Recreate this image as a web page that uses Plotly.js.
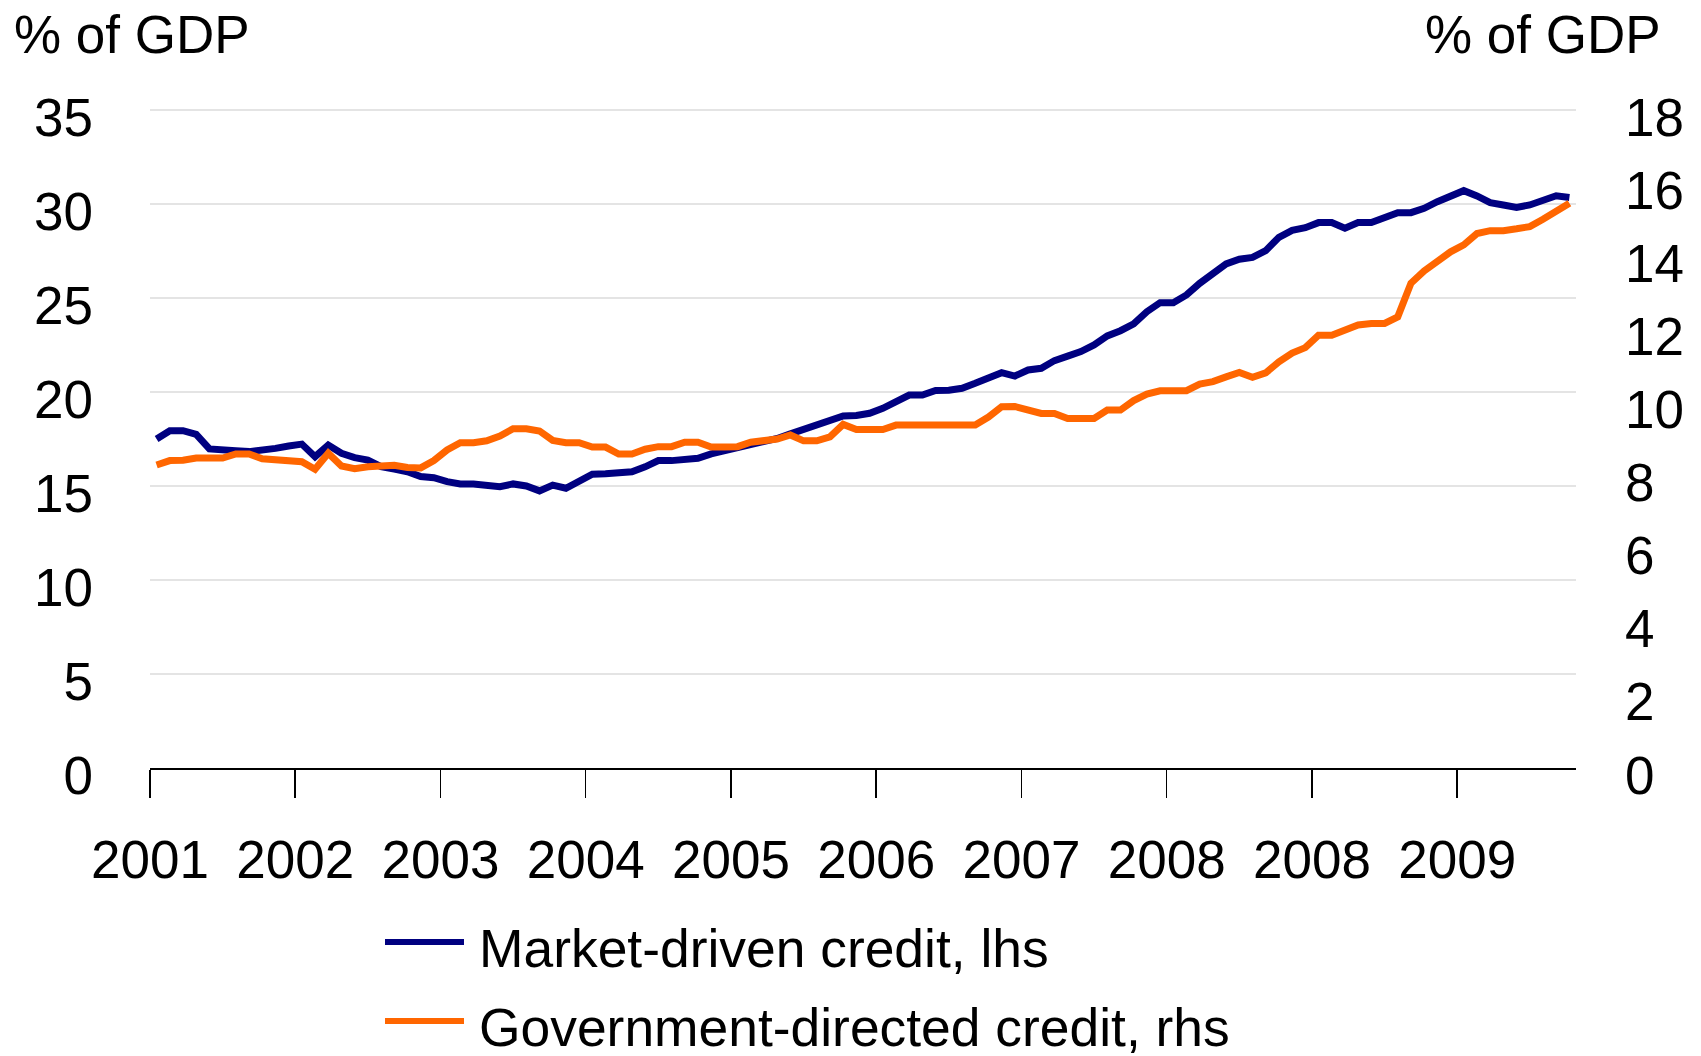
<!DOCTYPE html>
<html>
<head>
<meta charset="utf-8">
<script src="https://cdn.plot.ly/plotly-3.0.1.min.js"></script>
<style>
  html, body { margin: 0; padding: 0; background: #ffffff; }
  #chart { width: 1701px; height: 1056px; }
</style>
</head>
<body>
<div id="chart"></div>
<script>
// ---- Data ----
// Monthly observations, one per category on the horizontal axis
const marketDriven = [
  17.50, 17.94, 17.94, 17.75, 16.97, 16.97, 16.88, 16.83, 16.88, 17.00,
  17.13, 17.23, 16.56, 17.18, 16.74, 16.51, 16.38, 16.03, 15.90, 15.76,
  15.50, 15.44, 15.23, 15.11, 15.11, 15.00, 14.96, 15.11, 15.00, 14.74,
  15.05, 14.88, 15.25, 15.63, 15.65, 15.75, 15.76, 16.02, 16.35, 16.35,
  16.37, 16.47, 16.71, 16.87, 17.11, 17.25, 17.41, 17.53, 17.77, 18.00,
  18.24, 18.44, 18.73, 18.75, 18.87, 19.13, 19.51, 19.84, 19.84, 20.08,
  20.09, 20.20, 20.46, 20.77, 21.03, 20.85, 21.17, 21.26, 21.67, 21.91,
  22.15, 22.50, 22.98, 23.26, 23.62, 24.27, 24.75, 24.75, 25.16, 25.78,
  26.28, 26.81, 27.06, 27.16, 27.52, 28.23, 28.60, 28.74, 29.01, 29.01,
  28.71, 29.01, 29.01, 29.29, 29.54, 29.54, 29.77, 30.12, 30.44, 30.71,
  30.43, 30.07, 29.95, 29.82, 29.95, 30.18, 30.44, 30.35
];
const governmentDirected = [
  8.29, 8.41, 8.42, 8.48, 8.48, 8.48, 8.59, 8.59, 8.46, 8.44,
  8.38, 8.38, 8.17, 8.61, 8.26, 8.19, 8.24, 8.28, 8.28, 8.22,
  8.21, 8.41, 8.70, 8.90, 8.90, 8.95, 9.08, 9.28, 9.28, 9.22,
  8.96, 8.90, 8.90, 8.78, 8.78, 8.59, 8.59, 8.72, 8.79, 8.79,
  8.91, 8.91, 8.78, 8.78, 8.79, 8.91, 8.94, 9.00, 9.11, 8.95,
  8.95, 9.06, 9.40, 9.26, 9.26, 9.26, 9.38, 9.38, 9.38, 9.38,
  9.38, 9.38, 9.38, 9.60, 9.88, 9.89, 9.77, 9.70, 9.70, 9.56,
  9.56, 9.56, 9.79, 9.79, 10.05, 10.23, 10.32, 10.32, 10.32, 10.50,
  10.57, 10.70, 10.82, 10.69, 10.81, 11.11, 11.35, 11.50, 11.84, 11.84,
  11.98, 12.12, 12.16, 12.16, 12.34, 13.26, 13.60, 13.85, 14.12, 14.31,
  14.62, 14.70, 14.70, 14.75, 14.81, 15.01, 15.24, 15.45
];
// Tick labels exactly as printed on the reference (every 11th category)
const tickLabels = ["2001", "2002", "2003", "2004", "2005", "2006", "2007", "2008", "2008", "2009"];
const tickEvery = 11;
const seriesNames = ["Market-driven credit, lhs", "Government-directed credit, rhs"];
const seriesColors = ["#000080", "#FF6600"];
const axisTitle = "% of GDP";

// ---- Build ----
const periods = marketDriven.map((_, i) => i);
const tickPositions = tickLabels.map((_, k) => k * tickEvery - 0.5);
const FONT = 'Arial, "Liberation Sans", sans-serif';
const FS = 53;

const traces = [
  { x: periods, y: marketDriven, name: seriesNames[0], type: 'scatter', mode: 'lines',
    yaxis: 'y', line: { color: seriesColors[0], width: 7 }, showlegend: false },
  { x: periods, y: governmentDirected, name: seriesNames[1], type: 'scatter', mode: 'lines',
    yaxis: 'y2', line: { color: seriesColors[1], width: 7 }, showlegend: false }
];

// plot area geometry in pixels (for paper conversion of the hand-made legend/titles)
const W = 1701, H = 1056, L = 150, R = 125, T = 108, B = 288;
const pw = W - L - R, ph = H - T - B;
const px = x => (x - L) / pw;
const py = y => (H - B - y) / ph;

const legendRows = [942, 1021];
const shapes = seriesNames.map((n, k) => ({
  type: 'line', xref: 'paper', yref: 'paper',
  x0: px(385), x1: px(464), y0: py(legendRows[k]), y1: py(legendRows[k]),
  line: { color: seriesColors[k], width: 6 }
}));
const annotations = seriesNames.map((n, k) => ({
  text: n, xref: 'paper', yref: 'paper', x: px(477), y: py(legendRows[k] + 6),
  xanchor: 'left', yanchor: 'middle', showarrow: false,
  font: { family: FONT, size: 53.4, color: '#000000' }
}));
annotations.push({
  text: axisTitle, xref: 'paper', yref: 'paper', x: px(12), y: py(34),
  xanchor: 'left', yanchor: 'middle', showarrow: false,
  font: { family: FONT, size: FS, color: '#000000' }
});
annotations.push({
  text: axisTitle, xref: 'paper', yref: 'paper', x: px(1663), y: py(34),
  xanchor: 'right', yanchor: 'middle', showarrow: false,
  font: { family: FONT, size: FS, color: '#000000' }
});

// the plot area is 2px taller than the 0–35 span so that the top gridline stays visible
const stretch = ph / (ph - 2);
const layout = {
  width: W, height: H,
  margin: { l: L, r: R, t: T, b: B, pad: 0 },
  paper_bgcolor: '#ffffff', plot_bgcolor: '#ffffff',
  font: { family: FONT, size: FS, color: '#000000' },
  showlegend: false,
  xaxis: {
    range: [-0.5, marketDriven.length - 0.5],
    tickmode: 'array', tickvals: tickPositions, ticktext: tickLabels,
    ticks: 'outside', ticklen: 28, tickwidth: 1.5, tickcolor: '#000000',
    showline: true, linecolor: '#000000', linewidth: 1.5,
    showgrid: false, zeroline: false,
    tickfont: { family: FONT, size: FS, color: '#000000' },
    ticklabelstandoff: 17
  },
  yaxis: {
    range: [0, 35 * stretch], dtick: 5, tick0: 0,
    showgrid: true, gridcolor: '#e4e4e4', gridwidth: 1.5,
    zeroline: false, showline: false, ticks: '',
    tickfont: { family: FONT, size: FS, color: '#000000' },
    ticklabelstandoff: 56, ticklabelshift: 7
  },
  yaxis2: {
    range: [0, 18 * stretch], dtick: 2, tick0: 0,
    overlaying: 'y', side: 'right',
    showgrid: false, zeroline: false, showline: false, ticks: '',
    tickfont: { family: FONT, size: FS, color: '#000000' },
    ticklabelstandoff: 48, ticklabelshift: 7
  },
  shapes: shapes,
  annotations: annotations
};

Plotly.newPlot('chart', traces, layout, { staticPlot: true, displayModeBar: false });
</script>
</body>
</html>
